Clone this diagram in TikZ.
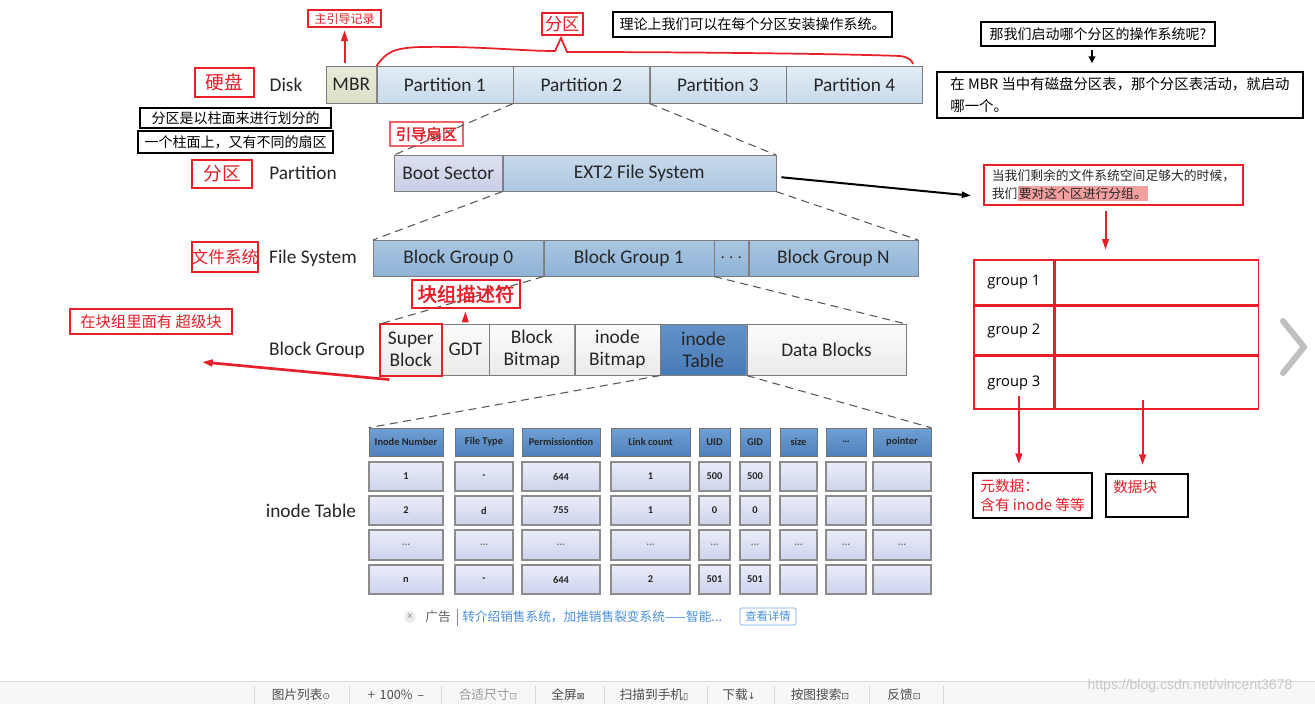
\documentclass[tikz,border=0pt]{standalone}
\usepackage{fontspec}
\usepackage{xcolor}
\setmainfont{Carlito}
\newfontfamily\cjk{Noto Sans CJK SC}
\newfontfamily\cjkb[FakeBold=2]{Noto Sans CJK SC}
\newfontfamily\grpfont{Open Sans}
\newfontfamily\wmfont{Liberation Sans}
\newfontfamily\symfont{DejaVu Sans}
\usetikzlibrary{positioning,arrows.meta}

\definecolor{redline}{RGB}{232,30,40}
\definecolor{hilite}{RGB}{244,160,160}
\definecolor{adblue}{RGB}{74,144,226}
\definecolor{boxgray}{RGB}{125,125,125}
\definecolor{partT}{RGB}{226,236,245}
\definecolor{partB}{RGB}{200,218,234}
\definecolor{mbrT}{RGB}{233,235,218}
\definecolor{mbrB}{RGB}{219,222,198}
\definecolor{bootT}{RGB}{221,224,241}
\definecolor{bootB}{RGB}{200,206,230}
\definecolor{extT}{RGB}{200,218,236}
\definecolor{extB}{RGB}{172,198,224}
\definecolor{bgT}{RGB}{170,198,226}
\definecolor{bgB}{RGB}{142,178,214}
\definecolor{wT}{RGB}{252,252,252}
\definecolor{wB}{RGB}{234,234,234}
\definecolor{itT}{RGB}{98,146,200}
\definecolor{itB}{RGB}{72,122,182}
\definecolor{hdT}{RGB}{112,160,212}
\definecolor{hdB}{RGB}{78,128,188}
\definecolor{clT}{RGB}{234,237,249}
\definecolor{clB}{RGB}{204,211,236}

\begin{document}
\begin{tikzpicture}[x=0.75pt,y=-0.75pt,
    sz/.style 2 args={minimum width=(#1)*0.75pt,minimum height=(#2)*0.75pt},
    lbl/.style={font=\fontsize{14.5}{17}\selectfont,text=black!85},
    slab/.style={draw=boxgray,inner sep=1pt,font=\fontsize{14.5}{16.5}\selectfont,text=black!85,align=center},
    mbrbox/.style={slab,top color=mbrT,bottom color=mbrB},
    part/.style={slab,top color=partT,bottom color=partB},
    bootbox/.style={slab,top color=bootT,bottom color=bootB},
    extbox/.style={slab,top color=extT,bottom color=extB},
    bgbox/.style={slab,top color=bgT,bottom color=bgB},
    wbox/.style={slab,top color=wT,bottom color=wB},
    itbox/.style={slab,top color=itT,bottom color=itB},
    redtag/.style={draw=redline,line width=1.5pt,text=redline,inner sep=0pt},
    redthin/.style={draw=redline,line width=1pt,text=redline,inner sep=0pt},
    note/.style={draw=black,line width=1.3pt,inner sep=0pt,font=\cjk\fontsize{10.5}{13}\selectfont},
    rednote/.style={draw=redline,line width=1.3pt,inner sep=0pt,font=\cjk\fontsize{9.6}{13.5}\selectfont,text=black!85},
    gcell/.style={draw=redline,line width=1.3pt,inner sep=0pt,font=\grpfont\fontsize{11}{13}\selectfont},
    blkbox/.style={draw=black,line width=1.5pt,inner sep=0pt},
    guide/.style={dashed,dash pattern=on 6pt off 4pt,black!65,line width=0.8pt},
    redarr/.style={-{Triangle[length=8pt,width=5pt]},redline,line width=1.5pt},
    blkarr/.style={-{Triangle[length=7pt,width=4.5pt]},black,line width=1.5pt},
    hcell/.style={draw=black!55,top color=hdT,bottom color=hdB,inner sep=1pt,font=\bfseries\fontsize{7.8}{9}\selectfont,text=black!85},
    bcell/.style={draw=black!45,line width=0.9pt,top color=clT,bottom color=clB,inner sep=1pt,font=\bfseries\fontsize{7.8}{9}\selectfont,text=black!85},
    tb/.style={font=\cjk\fontsize{9.5}{11}\selectfont,text=black!70}
]
\useasboundingbox[fill=white] (0,0) rectangle (1315,704);

% disk
\node[lbl] (disklbl) at (286,85) {Disk};
\node[redtag,sz={59}{29},font=\cjk\fontsize{14}{16}\selectfont] (hddtag) at (224.5,82.5) {硬盘};
\node[mbrbox,sz={50}{37},anchor=north west] (mbr) at (326,66) {MBR};
\node[part,sz={136}{37},right=0pt of mbr] (p1) {Partition 1};
\node[part,sz={136}{37},right=0pt of p1] (p2) {Partition 2};
\node[part,sz={136}{37},right=0pt of p2] (p3) {Partition 3};
\node[part,sz={136}{37},right=0pt of p3] (p4) {Partition 4};
\draw[redline,line width=1.3pt] (p1.north west) .. controls (386,52) and (394,48) .. (420,47)
    .. controls (480,46) and (520,51) .. (555,51) -- (561,38) -- (567,52)
    .. controls (700,52) and (850,54) .. (900,56) .. controls (908,57) and (912,60) .. (913,64);

\node[redthin,sz={73}{17},font=\cjk\fontsize{9}{10}\selectfont] (mbrtag) at (344.5,18.5) {主引导记录};
\draw[redarr,shorten <=2pt,shorten >=2pt] (mbr.north -| mbrtag.south) -- (mbrtag.south);
\node[redthin,sz={41}{22},font=\cjk\fontsize{13}{15}\selectfont] (parttag) at (562.5,24) {分区};
\node[note,sz={279}{25}] (osnote) at (752.5,24.5) {理论上我们可以在每个分区安装操作系统。};

\node[note,sz={234}{24}] (bootq) at (1098,34) {那我们启动哪个分区的操作系统呢?};
\node[note,align=left,sz={366}{46},font=\cjk\fontsize{10.8}{16}\selectfont] (bootans) at (1120,95)
    {在 MBR 当中有磁盘分区表，那个分区表活动，就启动\\哪一个。};
\draw[-{Triangle[length=5pt,width=5pt]},line width=1.6pt,shorten <=2.5pt,shorten >=6pt] ([xshift=-4.5pt]bootq.south) -- ([xshift=-4.5pt]bootq.south |- bootans.north);

\node[note,sz={191}{20}] (cylnote) at (235.5,118) {分区是以柱面来进行划分的};
\node[note,sz={195}{22}] (secnote) at (235.5,142) {一个柱面上，又有不同的扇区};

% partition
\node[lbl] (partlbl) at (303,173) {Partition};
\node[redtag,sz={60}{28},font=\cjk\fontsize{14}{16}\selectfont] (parttag2) at (222,174) {分区};
\node[bootbox,sz={108}{36},anchor=north west] (boot) at (394,155) {Boot Sector};
\node[extbox,sz={273}{36},right=0pt of boot] (ext2) {EXT2 File System};
\node[redthin,draw=redline!70,sz={73}{24},font=\cjkb\fontsize{11.5}{13}\selectfont] (boottag) at (426.5,134) {引导扇区};
\draw[guide] (p2.south west) -- (boot.north west);
\draw[guide] (p2.south east) -- (ext2.north east);

\node[rednote,sz={259}{40},align=left] (grpnote) at (1113.5,185)
    {当我们剩余的文件系统空间足够大的时候，\\我们{\setlength{\fboxsep}{1pt}\colorbox{hilite}{要对这个区进行分组。}}};
\draw[blkarr] ([xshift=4pt,yshift=-3pt]ext2.east) -- ([shift={(-9pt,-8pt)}]grpnote.west);

\node[gcell,sz={80}{45},anchor=north west] (g1) at (973,259) {group 1};
\node[gcell,sz={203}{45},right=0pt of g1] (g1d) {};
\node[gcell,sz={80}{48},below=0pt of g1] (g2) {group 2};
\node[gcell,sz={203}{48},right=0pt of g2] (g2d) {};
\node[gcell,sz={80}{53},below=0pt of g2] (g3) {group 3};
\node[gcell,sz={203}{53},right=0pt of g3] (g3d) {};
\draw[redarr,shorten <=4pt,shorten >=7pt] ([xshift=-6pt]grpnote.south) -- ([xshift=-6pt]grpnote.south |- g1.north);

\node[blkbox,sz={119}{45},align=left,text=redline,font=\cjk\fontsize{11}{14}\selectfont] (meta) at (1032.5,495.5) {元数据：\\含有 inode 等等};
\node[blkbox,sz={82}{43},anchor=north west] (dblk) at (1105,473) {};
\node[anchor=north west,inner sep=0pt,text=redline,font=\cjk\fontsize{11}{13}\selectfont] (dblktxt) at ([shift={(6pt,-5pt)}]dblk.north west) {数据块};
\draw[redarr,shorten >=6pt] ([shift={(3.75pt,11pt)}]g3.south) -- ([xshift=3.75pt]g3.south |- meta.north);
\draw[redarr,shorten >=6pt] ([shift={(-10.9pt,7.5pt)}]g3d.south) -- ([xshift=-10.9pt]g3d.south |- dblk.north);

% file system
\node[lbl] (fslbl) at (313,258) {File System};
\node[redtag,sz={66}{30},font=\cjk\fontsize{12.5}{14}\selectfont] (fstag) at (225,257) {文件系统};
\node[bgbox,sz={170}{36},anchor=north west] (bg0) at (373,240) {Block Group 0};
\node[bgbox,sz={170}{36},right=0pt of bg0] (bg1) {Block Group 1};
\node[bgbox,sz={34}{36},right=0pt of bg1] (bgdots) {$\cdots$};
\node[bgbox,sz={169}{36},right=0pt of bgdots] (bgN) {Block Group N};
\draw[guide] (ext2.south west) -- (bg0.north west);
\draw[guide] (ext2.south east) -- (bgN.north east);

% block group
\node[lbl] (bglbl) at (317,350) {Block Group};
\node[wbox,sz={61}{51},anchor=north west] (sb) at (380,324) {Super\\Block};
\node[wbox,sz={47}{51},right=0pt of sb] (gdt) {GDT};
\node[wbox,sz={85}{51},right=0pt of gdt] (bbm) {Block\\Bitmap};
\node[wbox,sz={85}{51},right=0pt of bbm] (ibm) {inode\\Bitmap};
\node[itbox,sz={86}{51},right=0pt of ibm] (itab) {inode\\Table};
\node[wbox,sz={159}{51},right=0pt of itab] (data) {Data Blocks};
\draw[redline,line width=1.5pt] (sb.north west) rectangle (sb.south east);
\draw[guide] (bg1.south west) -- (sb.north west);
\draw[guide] (bg1.south east) -- (data.north east);

\node[redtag,sz={108}{28},font=\cjkb\fontsize{14.5}{16}\selectfont] (gdtag) at (466,294) {块组描述符};
\draw[redarr,line width=1pt,shorten <=2pt,shorten >=2pt] (gdt.north) -- (gdt.north |- gdtag.south);
\node[redtag,line width=1.3pt,sz={162}{25},font=\cjk\fontsize{11.5}{13}\selectfont] (sbnote) at (151,321.5) {在块组里面有 超级块};
\coordinate (sbtip) at (202,362);
\draw[redarr,line width=2pt] ([shift={(7pt,-3pt)}]sb.south west) -- (sbtip);

% inode table
\node[lbl] (itlbl) at (311,511) {inode Table};
\foreach \xa/\xb/\hd/\va/\vb/\vc [count=\i] in {
    369/443/Inode Number/1/2/n,
    455/513/File Type/-/d/-,
    522/600/Permissiontion/644/755/644,
    611/690/Link count/1/1/2,
    699/730/UID/500/0/501,
    740/770/GID/500/0/501,
    780/817/size/{}/{}/{},
    826/866/{\dots}/{}/{}/{},
    873/931/pointer/{}/{}/{}}
{
    \node[hcell,sz={\xb-\xa}{28}] (hd\i) at ({(\xa+\xb)/2},442) {\hd};
    \node[bcell,sz={\xb-\xa}{29}] (ra\i) at ({(\xa+\xb)/2},476.5) {\va};
    \node[bcell,sz={\xb-\xa}{29}] (rb\i) at ({(\xa+\xb)/2},510.5) {\vb};
    \node[bcell,sz={\xb-\xa}{30},text=black!55] (rc\i) at ({(\xa+\xb)/2},545) {...};
    \node[bcell,sz={\xb-\xa}{29}] (rd\i) at ({(\xa+\xb)/2},579.5) {\vc};
}
\draw[guide] (itab.south west) -- (hd1.north west);
\draw[guide] (itab.south east) -- (hd9.north east);

% page around the picture
\node[circle,fill=black!8,inner sep=1pt,text=black!45,font=\fontsize{8}{8}\selectfont] (adx) at (410,617) {×};
\node[tb,text=black!60] (adtag) at (438,617) {广告};
\draw[black!45] (457,609) -- (457,626);
\node[tb,anchor=west,text=adblue,inner sep=0pt] (adtext) at (462,617) {转介绍销售系统，加推销售裂变系统——智能...};
\node[draw=adblue!80,rounded corners=1pt,text=adblue,inner sep=0pt,sz={56}{17},font=\cjk\fontsize{8.5}{10}\selectfont] (adbtn) at (768,616.5) {查看详情};

\draw[black!25,line width=4.5pt,line cap=round,line join=round] (1283,321) -- (1304,347) -- (1283,373);

\fill[black!3] (0,681) rectangle (1315,704);
\draw[black!15] (0,681) -- (1315,681);
\foreach \sx in {254,349,441,535,604,707,774,869,943}
    \draw[black!15] (\sx,686) -- (\sx,704);
\node[tb] (tbList) at (301,695) {图片列表{\symfont\fontsize{7}{8}\selectfont ⊙}};
\node[tb] (tbZoom) at (396,695) {+\, 100\% \,–};
\node[tb,text=black!40] (tbFit) at (488,695) {合适尺寸{\symfont\fontsize{7}{8}\selectfont ⊡}};
\node[tb] (tbFull) at (568,695) {全屏{\symfont\fontsize{7}{8}\selectfont ⊠}};
\node[tb] (tbScan) at (654,695) {扫描到手机{\symfont\fontsize{7}{8}\selectfont ▯}};
\node[tb] (tbDown) at (739,695) {下载{\symfont\fontsize{7}{8}\selectfont ↓}};
\node[tb] (tbSearch) at (820,695) {按图搜索{\symfont\fontsize{7}{8}\selectfont ⊡}};
\node[tb] (tbFeed) at (904,695) {反馈{\symfont\fontsize{7}{8}\selectfont ⊡}};
\node[text=black!22,font=\wmfont\fontsize{10.5}{12}\selectfont] (wmark) at (1190,686) {https://blog.csdn.net/vincent3678};
\end{tikzpicture}
\end{document}
